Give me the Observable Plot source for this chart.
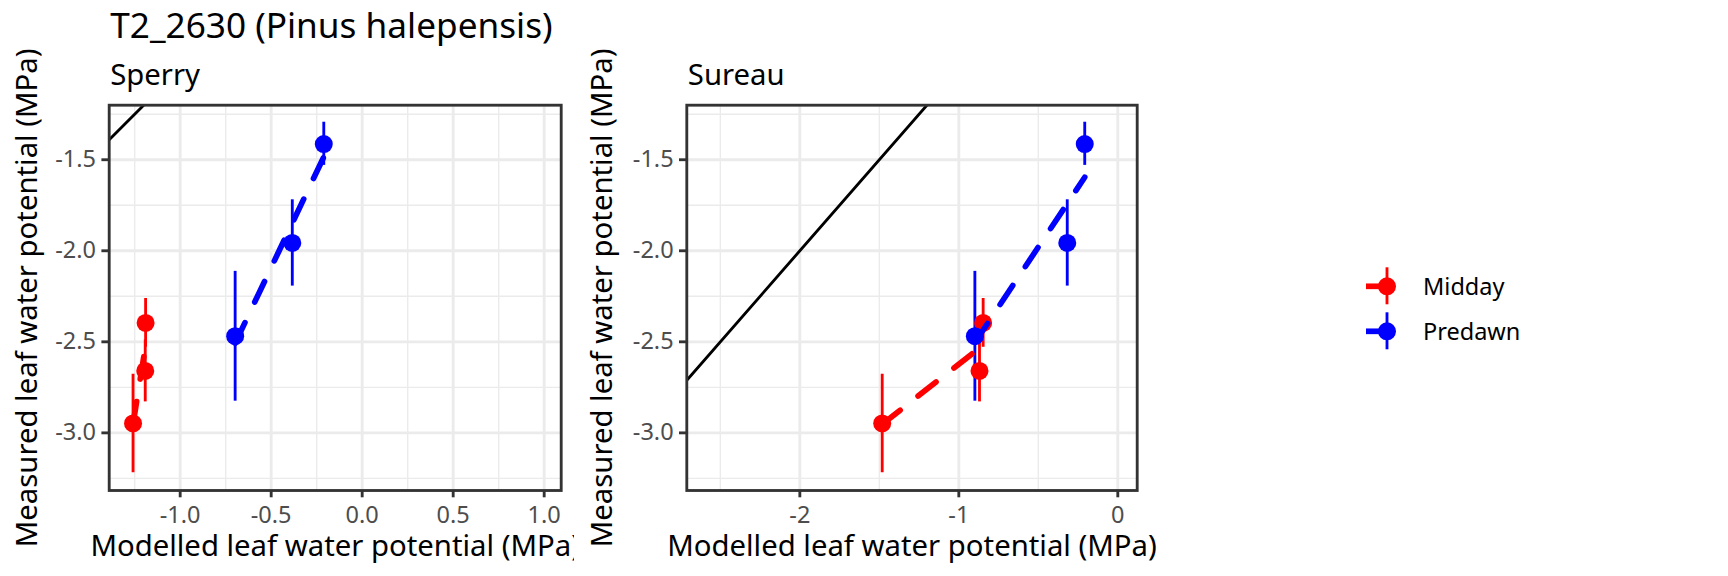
<!DOCTYPE html>
<html>
<head>
<meta charset="utf-8">
<script src="https://cdn.jsdelivr.net/npm/d3@7"></script>
<script src="https://cdn.jsdelivr.net/npm/@observablehq/plot@0.6"></script>
<style>
  body { margin: 0; background: #fff; }
  #chart { position: relative; width: 1728px; height: 576px; font-family: "Noto Sans", sans-serif; }
  #chart > svg { position: absolute; }
</style>
</head>
<body>
<div id="chart"></div>
<script>
// ---- data ----
const chartTitle = "T2_2630 (Pinus halepensis)";
const xTitle = "Modelled leaf water potential (MPa)";
const yTitle = "Measured leaf water potential (MPa)";
const groupNames = ["Midday", "Predawn"];
const groupColors = ["#FF0000", "#0000FF"];

const group = ["Midday", "Midday", "Midday", "Predawn", "Predawn", "Predawn"];
const measured   = [-2.948, -2.660, -2.396, -2.469, -1.957, -1.414];
const measuredLo = [-3.219, -2.830, -2.530, -2.826, -2.194, -1.531];
const measuredHi = [-2.678, -2.490, -2.262, -2.113, -1.720, -1.294];
const sperryModelled = [-1.259, -1.192, -1.190, -0.698, -0.384, -0.211];
const sureauModelled = [-1.482, -0.870, -0.847, -0.899, -0.318, -0.208];

const yDomain = [-3.3165, -1.2005];
const yMajor = [-3.0, -2.5, -2.0, -1.5];
const yMinor = [-3.25, -2.75, -2.25, -1.75, -1.25];

const sperryDomain = [-1.39, 1.0935];
const sperryMajor = [-1.0, -0.5, 0.0, 0.5, 1.0];
const sperryMinor = [-1.25, -0.75, -0.25, 0.25, 0.75];

const sureauDomain = [-2.711, 0.122];
const sureauMajor = [-2, -1, 0];
const sureauMinor = [-2.5, -1.5, -0.5];

// ---- styling ----
const GRID = "#EBEBEB", DARK = "#333333", TICKTXT = "#4D4D4D";
const LW = 2.85;

function panel(opts) {
  const {name, modelled, xDomain, xMajor, xMinor, xFmt, width, marginLeft, marginRight, yLabDx, title} = opts;
  const data = group.map((g, i) => ({group: g, x: modelled[i], y: measured[i], lo: measuredLo[i], hi: measuredHi[i]}));
  const marks = [
    Plot.gridX({ticks: xMinor, stroke: GRID, strokeOpacity: 1, strokeWidth: 1.4}),
    Plot.gridY({ticks: yMinor, stroke: GRID, strokeOpacity: 1, strokeWidth: 1.4}),
    Plot.gridX({ticks: xMajor, stroke: GRID, strokeOpacity: 1, strokeWidth: LW}),
    Plot.gridY({ticks: yMajor, stroke: GRID, strokeOpacity: 1, strokeWidth: LW}),
    Plot.line(xDomain, {x: d => d, y: d => d, stroke: "black", strokeWidth: LW, clip: true}),
    Plot.ruleX(data, {x: "x", y1: "lo", y2: "hi", stroke: "group", strokeWidth: LW}),
    Plot.dot(data, {x: "x", y: "y", fill: "group", r: 9}),
    Plot.linearRegressionY(data, {x: "x", y: "y", stroke: "group", ci: 0, strokeWidth: 5.7, strokeDasharray: "22.8,22.8"}),
    Plot.frame({stroke: DARK, strokeWidth: LW}),
    Plot.axisX({ticks: xMajor, tickFormat: xFmt, tickSize: 7.3, tickPadding: 8.7, fontSize: 23.5, fill: TICKTXT, stroke: DARK, strokeWidth: LW, label: null}),
    Plot.axisY({ticks: yMajor, tickFormat: d => d.toFixed(1), tickSize: 7.3, tickPadding: 5.9, fontSize: 23.5, fill: TICKTXT, stroke: DARK, strokeWidth: LW, label: null}),
    Plot.text([name], {text: d => d, frameAnchor: "top-left", textAnchor: "start", lineAnchor: "bottom", dx: 1, dy: -20.7, fontSize: 29.3, fill: "black"}),
    Plot.text([xTitle], {text: d => d, frameAnchor: "bottom", textAnchor: "middle", lineAnchor: "bottom", dy: 65, fontSize: 29.3, fill: "black"}),
    Plot.text([yTitle], {text: d => d, frameAnchor: "left", textAnchor: "middle", lineAnchor: "bottom", rotate: -90, dx: yLabDx, fontSize: 29.3, fill: "black"})
  ];
  if (title) marks.push(Plot.text([title], {text: d => d, frameAnchor: "top-left", textAnchor: "start", lineAnchor: "bottom", dx: 1, dy: -67.4, fontSize: 35.2, fill: "black"}));
  return Plot.plot({
    width, height: 576,
    marginLeft, marginRight, marginTop: 104.7, marginBottom: 86,
    style: {fontFamily: "Noto Sans", background: "white", overflow: "hidden"},
    x: {domain: xDomain, axis: null, label: null},
    y: {domain: yDomain, axis: null, label: null},
    color: {domain: groupNames, range: groupColors},
    marks
  });
}

const chart = document.getElementById("chart");
const p1 = panel({name: "Sperry", modelled: sperryModelled, xDomain: sperryDomain, xMajor: sperryMajor, xMinor: sperryMinor,
  xFmt: d => d.toFixed(1), width: 574, marginLeft: 108.7, marginRight: 13.3, yLabDx: -72.7, title: chartTitle});
p1.style.left = "0px"; p1.style.top = "0px";
chart.appendChild(p1);

const p2 = panel({name: "Sureau", modelled: sureauModelled, xDomain: sureauDomain, xMajor: sureauMajor, xMinor: sureauMinor,
  xFmt: d => String(d), width: 600, marginLeft: 112.3, marginRight: 37.3, yLabDx: -74.6});
p2.style.left = "574px"; p2.style.top = "0px";
chart.appendChild(p2);

// ---- legend ----
const leg = d3.create("svg").attr("width", 220).attr("height", 120)
  .style("left", "1340px").style("top", "240px")
  .style("font-family", "Noto Sans");
groupNames.forEach((g, i) => {
  const cy = 46.3 + i * 45, cx = 48;
  const gg = leg.append("g");
  gg.append("line").attr("x1", cx - 22).attr("x2", cx + 1).attr("y1", cy).attr("y2", cy)
    .attr("stroke", groupColors[i]).attr("stroke-width", 5.7);
  gg.append("line").attr("x1", cx - 1).attr("x2", cx - 1).attr("y1", cy - 19).attr("y2", cy + 18)
    .attr("stroke", groupColors[i]).attr("stroke-width", LW);
  gg.append("circle").attr("cx", cx - 1).attr("cy", cy).attr("r", 9).attr("fill", groupColors[i]);
  gg.append("text").attr("x", 83).attr("y", cy + 8.2).attr("font-size", 23.5).attr("fill", "black").text(g);
});
chart.appendChild(leg.node());
</script>
</body>
</html>
